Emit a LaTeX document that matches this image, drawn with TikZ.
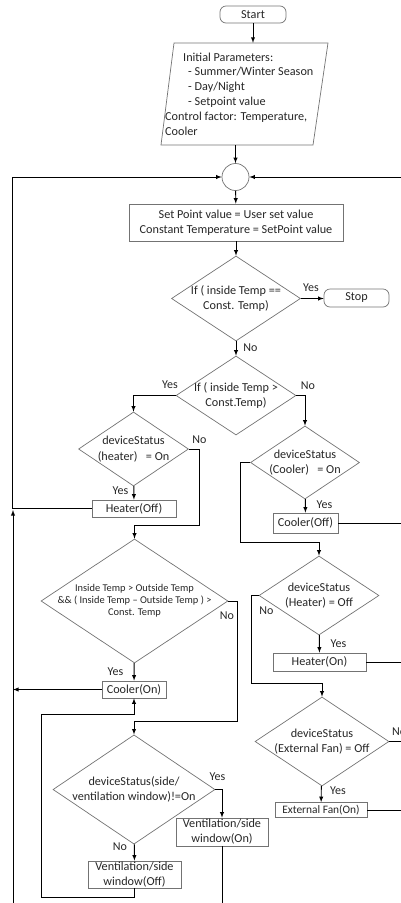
\documentclass[tikz,border=0pt]{standalone}
\usepackage{fontspec}
\setmainfont{Carlito}
\usepackage{tikz}
\usetikzlibrary{calc,shapes,arrows}

\tikzset{
  box/.style={draw=black!55, line width=0.7pt, rectangle, inner sep=0pt, align=center, text=black!85,
    font=\fontsize{12.2}{15}\selectfont},
  term/.style={box, rounded corners=6pt},
  decision/.style={draw=black!55, line width=0.7pt, diamond, inner sep=-10pt, align=center, text=black!85,
    font=\fontsize{12.2}{15.5}\selectfont},
  line/.style={draw=black, line width=0.9pt},
  lbl/.style={inner sep=0pt, text=black!85, font=\fontsize{12}{13}\selectfont}
}

\begin{document}
\begin{tikzpicture}[x=1pt,y=-1pt,>=latex]
        \useasboundingbox (0,0) rectangle (401,903);
        % top part
        \node[term, minimum width=66pt, minimum height=17pt] (start) at (253,14.5) {Start};
        \draw[draw=black!55, line width=0.7pt] (174,43) -- (328,43) -- (313,145) -- (161,145) -- cycle;
        \node[anchor=west, align=left, inner sep=0pt, minimum height=102pt, text=black!85,
            font=\fontsize{12.2}{14.8}\selectfont] (init) at (165,94)
            {\hspace*{18pt}Initial Parameters:\\ \hspace*{23pt}- Summer/Winter Season\\
             \hspace*{23pt}- Day/Night\\ \hspace*{23pt}- Setpoint value\\
             Control factor: Temperature,\\ Cooler};
        \node[circle, draw=black!55, line width=0.7pt, minimum size=27pt, inner sep=0pt] (join) at (235.5,177) {};
        \node[box, minimum width=214pt, minimum height=37pt] (setbox) at (236,222.5)
            {Set Point value = User set value\\ Constant Temperature = SetPoint value};
        \node[decision, minimum width=129pt, minimum height=85pt] (d1) at (236,298.5)
            {If ( inside Temp ==\\ Const. Temp)};
        \node[term, minimum width=65pt, minimum height=18pt] (stop) at (356.5,298) {Stop};
        \node[decision, minimum width=120pt, minimum height=79pt] (d2) at (236,395.5)
            {If ( inside Temp >\\ Const.Temp)};
        % left branch
        \node[decision, minimum width=110pt, minimum height=74pt] (d3) at (133.5,449)
            {deviceStatus\\ (heater)\ \ \ = On};
        \node[box, minimum width=84pt, minimum height=17pt] (heatoff) at (134,508.5) {Heater(Off)};
        \node[decision, minimum width=187pt, minimum height=124pt, inner sep=-26pt,
            font=\fontsize{10.4}{12}\selectfont] (d5) at (134.5,601)
            {Inside Temp > Outside Temp\\ \&\& ( Inside Temp -- Outside Temp ) >\\ Const. Temp};
        \node[box, minimum width=64pt, minimum height=17pt] (coolon) at (134,689.5) {Cooler(On)};
        \node[decision, minimum width=162pt, minimum height=107pt] (d7) at (134,789.5)
            {deviceStatus(side/\\ ventilation window)!=On};
        \node[box, minimum width=92pt, minimum height=28pt] (venton) at (222,832) {Ventilation/side\\ window(On)};
        \node[box, minimum width=93pt, minimum height=27pt] (ventoff) at (134.5,874.5) {Ventilation/side\\ window(Off)};
        % right branch
        \node[decision, minimum width=109pt, minimum height=73pt] (d4) at (305,462.5)
            {deviceStatus\\ (Cooler)\ \ \ = On};
        \node[box, minimum width=65pt, minimum height=20pt] (cooloff) at (305.5,523) {Cooler(Off)};
        \node[decision, minimum width=120pt, minimum height=79pt] (d6) at (319,595.5)
            {deviceStatus\\ (Heater) = Off};
        \node[box, minimum width=93pt, minimum height=18pt] (heaton) at (319.5,662) {Heater(On)};
        \node[decision, minimum width=134pt, minimum height=89pt] (d8) at (322,741.5)
            {deviceStatus\\ (External Fan) = Off};
        \node[box, minimum width=92pt, minimum height=15pt, font=\fontsize{11.4}{14}\selectfont] (fanon) at (321,810)
            {External Fan(On)};
        % loose ends
        \coordinate (rin) at (401,177);
        \coordinate (lup) at (12,508.5);
        \coordinate (lbot) at (13,903);
        \coordinate (ltip) at (13,510);
        \coordinate (rc) at (401,523);
        \coordinate (rh) at (401,662);
        \coordinate (rn) at (401,741.5);
        \coordinate (rf) at (401,810);
        \coordinate (vb) at (222,903);

        % connectors
        \draw[line,->] (start) -- (start |- init.north);
        \draw[line,->] (init.south -| join) -- (join);
        \draw[line,->] (rin) -- (join);
        \draw[line,->] (heatoff.west) -- (lup) |- (join);
        \draw[line,->] (join) -- (setbox);
        \draw[line,->] (setbox) -- (d1);
        \draw[line,->] (d1.east) -- (d1.east -| stop.west);
        \draw[line,->] (d1) -- (d2);
        \draw[line,->] (d2.west) -| (d3.north);
        \draw[line,->] (d2.east) -| (d4.north);
        \draw[line,->] (d3.east) -- ++(11,0) |- ($(d5.north)+(0,-13)$) -- (d5.north);
        \draw[line,->] (d3) -- (heatoff);
        \draw[line,->] (d4.west) -- ++(-10,0) |- ($(d6.north)+(0,-13)$) -- (d6.north);
        \draw[line,->] (d4) -- (cooloff);
        \draw[line] (cooloff) -- (rc);
        \draw[line,->] (d6.west) -- ++(-7,0) |- ($(d8.north)+(0,-13)$) -- (d8.north);
        \draw[line,->] (d6) -- (heaton);
        \draw[line] (heaton) -- (rh);
        \draw[line] (d8.east) -- (rn);
        \draw[line,->] (d8) -- (fanon);
        \draw[line] (fanon) -- (rf);
        \draw[line,->] (d5.east) -- ++(9,0) |- ($(d7.north)+(0,-13)$) -- (d7.north);
        \draw[line,->] (d5) -- (coolon);
        \draw[line,->] (coolon.west) -- (coolon.west -| lbot);
        \draw[line,->] (lbot) -- (ltip);
        \draw[line,->] (ventoff.south) |- (41,897) |- ($(coolon.south)+(0,16)$) -- (coolon.south);
        \draw[line,->] (d7.east) -| (venton.north);
        \draw[line,->] (d7) -- (ventoff);
        \draw[line] (venton.south) -- (vb);

        % Yes / No labels
        \foreach \t/\x/\y [count=\i] in {Yes/311/288, No/250.5/348, Yes/170/385, No/308/386,
            No/199.5/440, Yes/120.5/491, Yes/324.5/505, No/227/616, No/266.5/611, Yes/338.5/644,
            Yes/115.5/672, Yes/338/791, Yes/217.5/777, No/120/847}
        \node[lbl] (lab\i) at (\x,\y) {\t};
        \node[lbl, anchor=west] (labfan) at (392,732) {No};
\end{tikzpicture}
\end{document}
